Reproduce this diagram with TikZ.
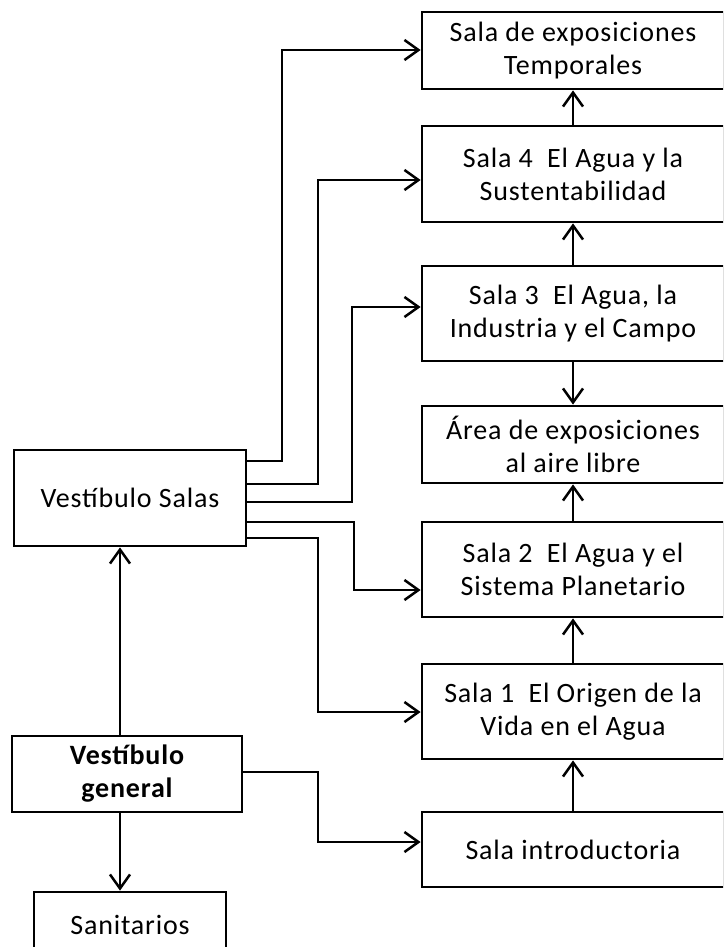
\documentclass[tikz,border=0pt]{standalone}
\usepackage{fontspec}
\setmainfont{Carlito}[LetterSpace=3]
\usetikzlibrary{arrows.meta}
\begin{document}
\begin{tikzpicture}[x=1pt,y=-1pt,
  box/.style={draw,line width=2.8pt,inner sep=0pt,align=center,
    font=\fontsize{28}{33}\selectfont},
  rbox/.style={box,minimum width=302pt},
  conn/.style={line width=2.5pt,-{Straight Barb[length=14pt,width=20pt]}},
  wire/.style={line width=2.5pt}]
\useasboundingbox (0,0) rectangle (723,947);
\clip (0,0) rectangle (723,947);
% right column
\node[rbox,minimum height=77pt] (temp) at (573,50.5) {Sala de exposiciones\\Temporales};
\node[rbox,minimum height=96pt] (s4) at (573,174) {Sala 4\ \ El Agua y la\\Sustentabilidad};
\node[rbox,minimum height=95pt] (s3) at (573,313.5) {Sala 3\ \ El Agua, la\\Industria y el Campo};
\node[rbox,minimum height=77pt] (area) at (573,444.5) {Área de exposiciones\\al aire libre};
\node[rbox,minimum height=95pt] (s2) at (573,569.5) {Sala 2\ \ El Agua y el\\Sistema Planetario};
\node[rbox,minimum height=95pt] (s1) at (573,711.5) {Sala 1\ \ El Origen de la\\Vida en el Agua};
\node[rbox,minimum height=75pt] (intro) at (573,849.5) {Sala introductoria};
% left column
\node[box,minimum width=232pt,minimum height=96pt] (vs) at (130,498) {Vestíbulo Salas};
\node[box,minimum width=230pt,minimum height=76pt,font=\fontsize{28}{33}\selectfont\bfseries] (vg) at (127,774) {Vestíbulo\\general};
\node[box,minimum width=192pt,minimum height=66pt] (san) at (130,925) {Sanitarios};
% vertical arrows right column
\draw[conn] (s4.north -| 573,0) -- (temp.south -| 573,0);
\draw[conn] (s3.north -| 573,0) -- (s4.south -| 573,0);
\draw[conn] (s3.south -| 573,0) -- (area.north -| 573,0);
\draw[conn] (s2.north -| 573,0) -- (area.south -| 573,0);
\draw[conn] (s1.north -| 573,0) -- (s2.south -| 573,0);
\draw[conn] (intro.north -| 573,0) -- (s1.south -| 573,0);
% left verticals
\draw[conn] (vg.north -| 120,0) -- (vs.south -| 120,0);
\draw[conn] (vg.south -| 120,0) -- (san.north -| 120,0);
% connectors from Vestibulo Salas
\coordinate (a1) at (vs.east |- 0,461);
\coordinate (a2) at (vs.east |- 0,484);
\coordinate (a3) at (vs.east |- 0,502);
\coordinate (a4) at (vs.east |- 0,522);
\coordinate (a5) at (vs.east |- 0,538);
\draw[conn] (a1) -| (282,50) -- (temp.west |- 0,50);
\draw[conn] (a2) -| (318,180) -- (s4.west |- 0,180);
\draw[conn] (a3) -| (352,307) -- (s3.west |- 0,307);
\draw[conn] (a4) -| (354,590) -- (s2.west |- 0,590);
\draw[conn] (a5) -| (318,712) -- (s1.west |- 0,712);
\coordinate (b1) at (vg.east |- 0,772);
\draw[conn] (b1) -| (318,842) -- (intro.west |- 0,842);
\end{tikzpicture}
\end{document}
